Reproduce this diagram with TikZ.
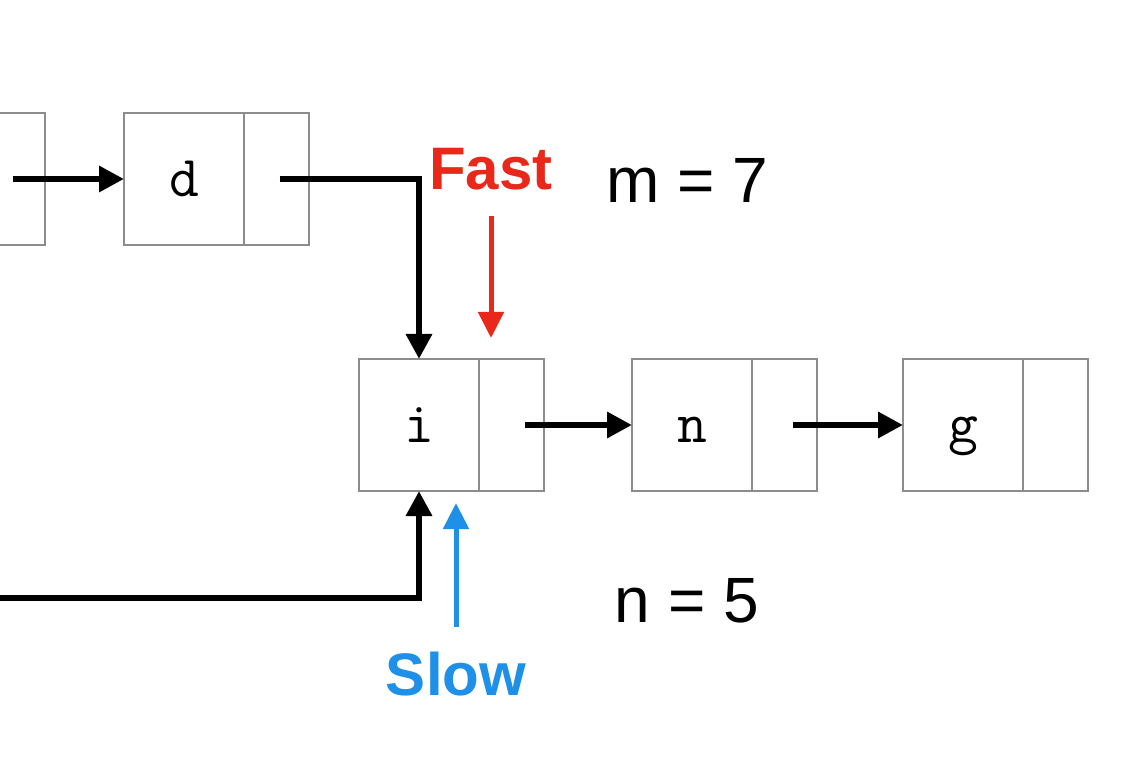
\documentclass[tikz,border=0pt]{standalone}
\usepackage{fontspec}
\setmainfont{Liberation Sans}
\usepackage{tikz}
\usetikzlibrary{arrows.meta}
\usetikzlibrary{positioning}
\definecolor{fastred}{HTML}{E8281B}
\definecolor{slowblue}{HTML}{1E90E8}
\definecolor{boxgray}{HTML}{8C8C8C}
\tikzstyle{datacell}=[draw=boxgray,line width=1.4pt,minimum width=120pt,minimum height=132pt,inner sep=0pt,outer sep=0pt,text height=35pt,text depth=0pt,font=\ttfamily\fontsize{58}{62}\selectfont]
\tikzstyle{ptrcell}=[datacell,minimum width=65pt]
\tikzstyle{link}=[line width=6.5pt,-{Triangle[length=25pt,width=25pt]}]

\begin{document}
\begin{tikzpicture}[x=1pt,y=-1pt]
\tikzstyle{pointer}=[line width=5pt,-{Triangle[length=26pt,width=25pt]}]
\tikzstyle{tag}=[inner sep=0pt,anchor=base,font=\fontsize{64}{70}\selectfont]
\useasboundingbox (0,0) rectangle (1127,775);
\clip (0,0) rectangle (1127,775);
% list cells
\node [ptrcell] (cp) at (12.5,179) {};
\node [datacell] (d) at (184,179) {d};
\node [ptrcell, right=0pt of d] (dp) {};
\node [datacell] (i) at (419,425) {i};
\node [ptrcell, right=0pt of i] (ip) {};
\node [datacell] (n) at (692,425) {n};
\node [ptrcell, right=0pt of n] (np) {};
\node [datacell] (g) at (963,425) {g};
\node [ptrcell, right=0pt of g] (gp) {};
% links
\coordinate (loop) at (0,598);
\draw [link] (cp.center) -- (d.west);
\draw [link] ([xshift=3pt]dp.center) -| (i.north);
\draw [link] ([xshift=13pt]ip.center) -- (n.west);
\draw [link] ([xshift=8pt]np.center) -- (g.west);
\draw [link] (loop) -| (i.south);
% fast and slow pointers
\node [tag, text=fastred, font=\bfseries\fontsize{60}{66}\selectfont] (fast) at (491,190) {Fast};
\node [tag, text=slowblue, font=\bfseries\fontsize{60}{66}\selectfont] (slow) at (456,695) {Slow};
\coordinate (fasttip) at (491,338);
\coordinate (slowtip) at (456,503);
\draw [pointer, fastred] ([yshift=-25pt]fast.south) -- (fasttip);
\draw [pointer, slowblue] ([yshift=24pt]slow.north) -- (slowtip);
% lengths
\node [tag] (mlen) at (687,203) {m = 7};
\node [tag] (nlen) at (687,622) {n = 5};
\end{tikzpicture}
\end{document}
